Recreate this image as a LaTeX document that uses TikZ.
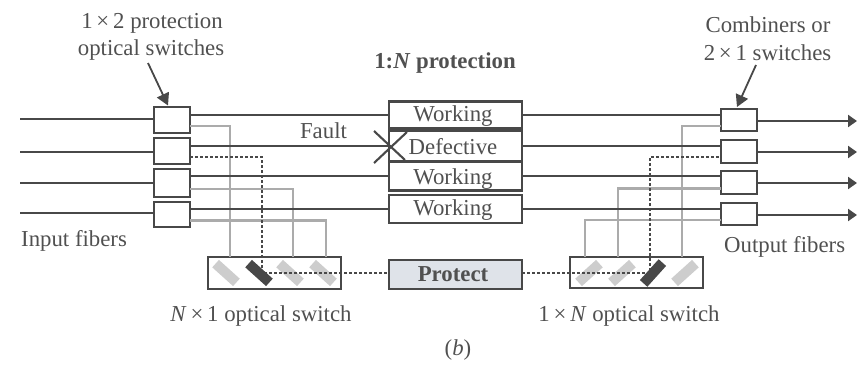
\documentclass[tikz,border=0pt]{standalone}
\usepackage{fontspec}
\setmainfont{Liberation Serif}
\usetikzlibrary{arrows.meta}
\definecolor{ink}{HTML}{484848}
\definecolor{txt}{HTML}{505050}
\definecolor{lgray}{HTML}{ABABAB}
\definecolor{mgray}{HTML}{CDCDCD}
\definecolor{protfill}{HTML}{DFE3E9}
\tikzset{
  box/.style={draw=ink,line width=2.6pt,fill=white,minimum width=#1,inner sep=0pt,outer sep=0pt},
  sw/.style={box=36pt},
  mid/.style={box=133pt},
  mirror/.style={rectangle,minimum width=28pt,minimum height=10pt,inner sep=0pt,fill=#1},
  lbl/.style={text=txt,font=\fontsize{22.8}{26}\selectfont,anchor=base,inner sep=0pt},
  fiber/.style={draw=ink,line width=2.3pt},
  graylink/.style={draw=lgray,line width=2.1pt},
  dashlink/.style={draw=ink,line width=2.4pt,dash pattern=on 3pt off 2pt},
  pointer/.style={draw=ink,line width=1.8pt,-{Triangle[length=12pt,width=13pt]}},
  outarrow/.style={draw=ink,line width=2.3pt,-{Triangle[length=9pt,width=12pt]}},
}
\begin{document}
\begin{tikzpicture}[x=1pt,y=-1pt]
\useasboundingbox (0,0) rectangle (857,367);
% switches left
\node[sw,minimum height=26pt] (l1) at (172,120) {};
\node[sw,minimum height=26pt] (l2) at (172,151) {};
\node[sw,minimum height=28pt] (l3) at (172,183) {};
\node[sw,minimum height=25pt] (l4) at (172,214.5) {};
% combiners right
\node[sw,minimum height=22pt] (r1) at (739,120) {};
\node[sw,minimum height=23pt] (r2) at (739,151.5) {};
\node[sw,minimum height=23pt] (r3) at (739,182.5) {};
\node[sw,minimum height=22pt] (r4) at (739,214) {};
% centre boxes
\node[mid,minimum height=27pt] (m1) at (455.5,115) {};
\node[mid,minimum height=30pt] (m2) at (455.5,146) {};
\node[mid,minimum height=29pt] (m3) at (455.5,176) {};
\node[mid,minimum height=28pt] (m4) at (455.5,209) {};
\node[mid,minimum height=29pt,fill=protfill] (prot) at (455.5,274.5) {};
% optical switches
\node[box=133pt,minimum height=32pt] (sl) at (274.5,273) {};
\node[box=133pt,minimum height=31pt] (sr) at (636.5,272.5) {};
% mirrors
\node[mirror=mgray,rotate=-42] (ml1) at (226,273) {};
\node[mirror=ink,rotate=-42] (ml2) at (259,273) {};
\node[mirror=mgray,rotate=-42] (ml3) at (290,273) {};
\node[mirror=mgray,rotate=-42] (ml4) at (323,273) {};
\node[mirror=mgray,rotate=42] (mr1) at (589,273) {};
\node[mirror=mgray,rotate=42] (mr2) at (622,273) {};
\node[mirror=ink,rotate=48] (mr3) at (653,273) {};
\node[mirror=mgray,rotate=42] (mr4) at (685,273) {};
% free ends
\coordinate (i1) at (20,119);
\coordinate (i2) at (20,152);
\coordinate (i3) at (20,183);
\coordinate (i4) at (20,213);
\coordinate (o1) at (857,121);
\coordinate (o2) at (857,152);
\coordinate (o3) at (857,183);
\coordinate (o4) at (857,215);
\coordinate (gl1) at (230,257);
\coordinate (gl3) at (293,257);
\coordinate (gl4) at (326,257);
\coordinate (gr1) at (585,257);
\coordinate (gr2) at (618,257);
\coordinate (gr4) at (682,257);
\coordinate (dl) at (262,273);
\coordinate (dr) at (650,273);
% gray links
\draw[graylink] ([yshift=-6pt]l1.east) -| (gl1);
\draw[graylink] ([yshift=-6pt]l3.east) -| (gl3);
\draw[graylink] ([yshift=-6pt]l4.east) -| (gl4);
\draw[graylink] ([yshift=-6pt]r1.west) -| (gr4);
\draw[graylink] ([yshift=-6pt]r3.west) -| (gr2);
\draw[graylink] ([yshift=-6pt]r4.west) -| (gr1);
% fibers
\foreach \n in {1,2,3,4}{
  \draw[fiber] (i\n) -- (i\n -| l\n.west);
  \draw[fiber] (l\n.east |- m\n) -- (m\n.west);
  \draw[fiber] (m\n.east) -- (r\n.west |- m\n);
  \draw[outarrow] (o\n -| r\n.east) -- (o\n);
}
% protection path
\draw[dashlink] ([yshift=-6pt]l2.east) -| (dl) -- (prot.west |- dl);
\draw[dashlink] (prot.east |- dr) -- (dr) |- ([yshift=-5.5pt]r2.west);
% fault cross
\coordinate (xa) at (374,131);
\coordinate (xb) at (405,160);
\coordinate (xc) at (374,163);
\coordinate (xd) at (407,132);
\draw[draw=ink,line width=2.1pt] (xa) -- (xb) (xc) -- (xd);
% pointers
\coordinate (pa) at (148,63);
\coordinate (pb) at (756,65);
\draw[pointer] (pa) -- ([xshift=-4pt,yshift=1.5pt]l1.north);
\draw[pointer] (pb) -- ([xshift=-2pt,yshift=2pt]r1.north);
% labels
\node[lbl] (t1) at (152,28) {1\,×\,2 protection};
\node[lbl] (t2) at (151,55) {optical switches};
\node[lbl] (t3) at (768,32) {Combiners or};
\node[lbl] (t4) at (767.5,60) {2\,×\,1 switches};
\node[lbl] (t5) at (445,68) {\textbf{1:\textit{N} protection}};
\node[lbl] (t6) at (323.5,138) {Fault};
\node[lbl,anchor=base west] (t7) at (21,246) {Input fibers};
\node[lbl,anchor=base west] (t8) at (724,252) {Output fibers};
\node[lbl] (w1) at (453,121) {Working};
\node[lbl] (w2) at (453,154) {Defective};
\node[lbl] (w3) at (453,184) {Working};
\node[lbl] (w4) at (453,215) {Working};
\node[lbl] (w5) at (453,281) {\textbf{Protect}};
\node[lbl] (t9) at (261,321) {\textit{N}\,×\,1 optical switch};
\node[lbl] (t10) at (629,321) {1\,×\,\textit{N} optical switch};
\node[lbl] (t11) at (458,355) {(\textit{b})};
\end{tikzpicture}
\end{document}
